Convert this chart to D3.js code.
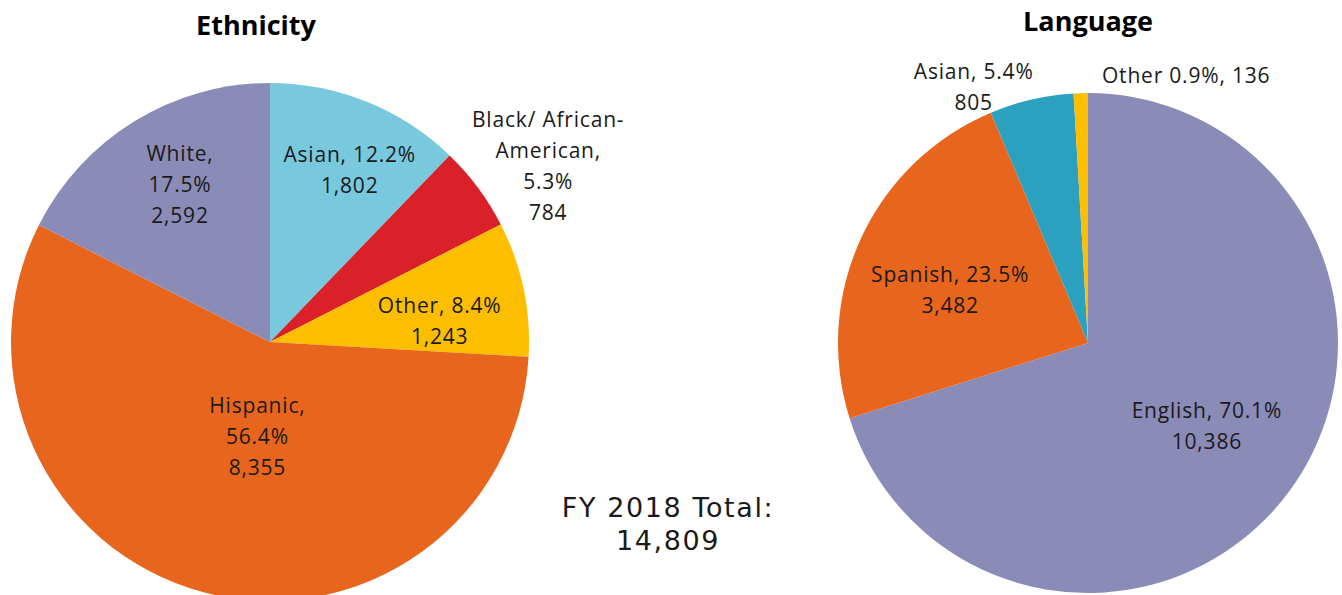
<!DOCTYPE html>
<html>
<head>
<meta charset="utf-8">
<script src="https://cdn.jsdelivr.net/npm/d3@7"></script>
<style>
  body { margin: 0; background: #fff; }
  svg { display: block; font-family: "Open Sans", sans-serif; }
</style>
</head>
<body>
<svg id="chart" width="1342" height="595"></svg>
<script>
// ethnicity data (clockwise from 12 o'clock)
ethCategories = ['Asian', 'Black/ African-American', 'Other', 'Hispanic', 'White']
ethValues = [1802, 784, 1243, 8355, 2592]
ethPercents = ['12.2%', '5.3%', '8.4%', '56.4%', '17.5%']
ethColors = ['#78c9de', '#da2029', '#fdbe00', '#e8651e', '#8a8bb7']
ethLabelLines = [
	['Asian, 12.2%', '1,802'],
	['Black/ African-', 'American,', '5.3%', '784'],
	['Other, 8.4%', '1,243'],
	['Hispanic,', '56.4%', '8,355'],
	['White,', '17.5%', '2,592']
]

// language data
langCategories = ['English', 'Spanish', 'Asian', 'Other']
langValues = [10386, 3482, 805, 136]
langPercents = ['70.1%', '23.5%', '5.4%', '0.9%']
langColors = ['#8a8bb7', '#e8651e', '#2ba1bf', '#fdbe00']
langLabelLines = [
	['English, 70.1%', '10,386'],
	['Spanish, 23.5%', '3,482'],
	['Asian, 5.4%', '805'],
	['Other 0.9%, 136']
]

totalLabel = ['FY 2018 Total:', '14,809']

// label placement: radius factor and angle nudge (deg) from slice mid-angle
ethLabelPos = [[0.73, 3], [1.27, 4.3], [0.66, 4.8], [0.37, -7.5], [0.70, 1.8]]
langLabelPos = [[0.58, -1.3], [0.59, -4], [1.12, -11], [1.14, 21.8]]

var svg = d3.select('#chart')
var lineH = 31

function drawPie(cx, cy, r, title, titleX, titleY, values, colors, lines, pos) {
	var g = svg.append('g').attr('transform', 'translate(' + cx + ',' + cy + ')')
	var pie = d3.pie().sort(null).value(function (d) { return d })
	var arc = d3.arc().innerRadius(0).outerRadius(r)
	var arcs = pie(values)

	g.selectAll('path')
		.data(arcs)
		.enter()
		.append('path')
		.attr('d', arc)
		.style('fill', function (d, i) { return colors[i] })

	arcs.forEach(function (d, i) {
		var a = (d.startAngle + d.endAngle) / 2 + pos[i][1] * Math.PI / 180
		var rr = r * pos[i][0]
		var x = Math.sin(a) * rr
		var y = -Math.cos(a) * rr
		var n = lines[i].length
		var t = g.append('text')
			.attr('text-anchor', 'middle')
			.attr('font-size', '21px')
			.style('letter-spacing', '0.8px')
			.style('fill', '#1a1a1a')
		lines[i].forEach(function (s, j) {
			t.append('tspan')
				.attr('x', x)
				.attr('y', y + (j - (n - 1) / 2) * lineH)
				.attr('dy', '0.35em')
				.text(s)
		})
	})

	svg.append('text')
		.attr('x', titleX)
		.attr('y', titleY)
		.attr('dy', '0.35em')
		.attr('text-anchor', 'middle')
		.attr('font-size', '27px')
		.attr('font-weight', 'bold')
		.style('fill', '#000')
		.text(title)
}

drawPie(270, 342, 259, 'Ethnicity', 256, 26, ethValues, ethColors, ethLabelLines, ethLabelPos)
drawPie(1088, 343, 250, 'Language', 1088, 22, langValues, langColors, langLabelLines, langLabelPos)

// total annotation
var tt = svg.append('text')
	.attr('text-anchor', 'middle')
	.attr('font-size', '27px')
	.style('font-family', '"DejaVu Sans", sans-serif')
	.style('letter-spacing', '1.6px')
	.style('fill', '#1a1a1a')
totalLabel.forEach(function (s, j) {
	tt.append('tspan')
		.attr('x', 668)
		.attr('y', 508 + j * 33)
		.attr('dy', '0.35em')
		.text(s)
})
</script>
</body>
</html>
